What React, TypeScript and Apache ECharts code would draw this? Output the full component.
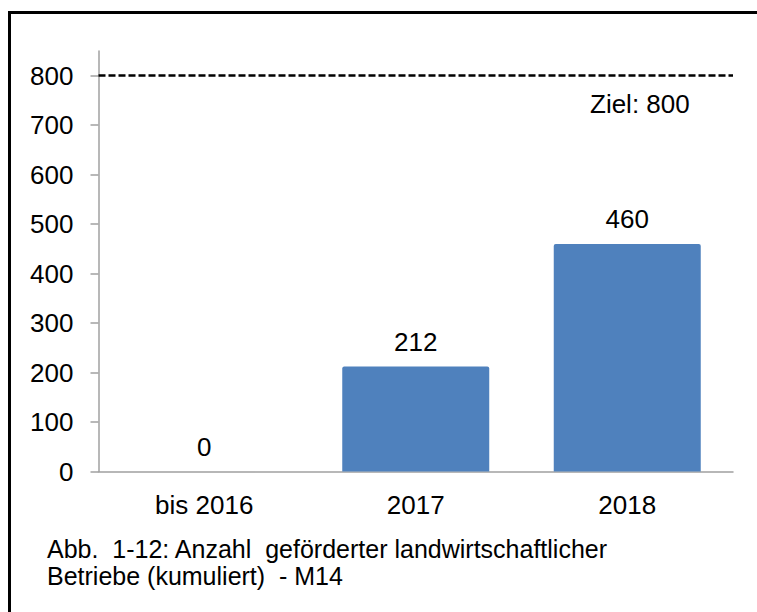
import React, { useEffect, useRef } from "react";
import * as echarts from "echarts";

const categories = ["bis 2016", "2017", "2018"];
const values = [0, 212, 460];
const yTicks = [0, 100, 200, 300, 400, 500, 600, 700, 800];
const target = 800;
const targetLabel = "Ziel: " + target;
const captionLines = [
  "Abb.  1-12: Anzahl  geförderter landwirtschaftlicher",
  "Betriebe (kumuliert)  - M14",
];

const FONT = "'Liberation Sans', Arial, sans-serif";

export default function App() {
  const ref = useRef<HTMLDivElement>(null);
  useEffect(() => {
    if (!ref.current) return;
    const chart = echarts.init(ref.current, null, { renderer: "svg" });
    chart.setOption({
      animation: false,
      backgroundColor: "#ffffff",
      textStyle: { fontFamily: FONT },
      grid: { left: 98.5, right: 24, top: 51, bottom: 140.5 },
      xAxis: {
        type: "category",
        data: categories,
        axisLine: { lineStyle: { color: "#a0a0a0", width: 1.5 } },
        axisTick: { show: false },
        axisLabel: {
          color: "#000",
          fontSize: 26,
          lineHeight: 26,
          margin: 20,
          fontFamily: FONT,
        },
      },
      yAxis: {
        type: "value",
        min: 0,
        max: 850,
        interval: 100,
        splitLine: { show: false },
        axisLine: { show: true, lineStyle: { color: "#a0a0a0", width: 1.5 } },
        axisTick: {
          show: true,
          length: 8,
          customValues: yTicks,
          lineStyle: { color: "#a0a0a0", width: 1.5 },
        },
        axisLabel: {
          color: "#000",
          fontSize: 26,
          margin: 25,
          fontFamily: FONT,
          customValues: yTicks,
        },
      },
      series: [
        {
          type: "bar",
          data: values,
          barCategoryGap: "30.5%",
          itemStyle: { color: "#4f81bd", borderRadius: [2, 2, 0, 0] },
          label: {
            show: true,
            position: "top",
            distance: 12,
            color: "#000",
            fontSize: 26,
            lineHeight: 26,
            fontFamily: FONT,
          },
          markLine: {
            silent: true,
            symbol: "none",
            label: { show: false },
            lineStyle: { color: "#000", width: 2.5, type: [7, 3] },
            data: [{ yAxis: target }],
          },
        },
      ],
      graphic: [
        {
          type: "line",
          shape: { x1: 8, y1: 12.5, x2: 757, y2: 12.5 },
          style: { stroke: "#000", lineWidth: 3 },
          silent: true,
        },
        {
          type: "line",
          shape: { x1: 9.5, y1: 11, x2: 9.5, y2: 612 },
          style: { stroke: "#000", lineWidth: 3 },
          silent: true,
        },
        {
          type: "rect",
          shape: { x: 746, y: 15, width: 11, height: 597 },
          style: { fill: "#ffffff" },
          silent: true,
          z: 100,
        },
        {
          type: "text",
          x: 590,
          y: 104,
          style: {
            text: targetLabel,
            font: "26px " + FONT,
            fill: "#000",
            verticalAlign: "middle",
          },
        },
        {
          type: "text",
          x: 47,
          y: 549,
          style: {
            text: captionLines[0],
            font: "25px " + FONT,
            fill: "#000",
            verticalAlign: "middle",
          },
        },
        {
          type: "text",
          x: 47,
          y: 575.5,
          style: {
            text: captionLines[1],
            font: "25px " + FONT,
            fill: "#000",
            verticalAlign: "middle",
          },
        },
      ],
    });
    return () => chart.dispose();
  }, []);
  return (
    <div
      ref={ref}
      style={{ position: "fixed", left: 0, top: 0, width: 757, height: 612 }}
    />
  );
}
